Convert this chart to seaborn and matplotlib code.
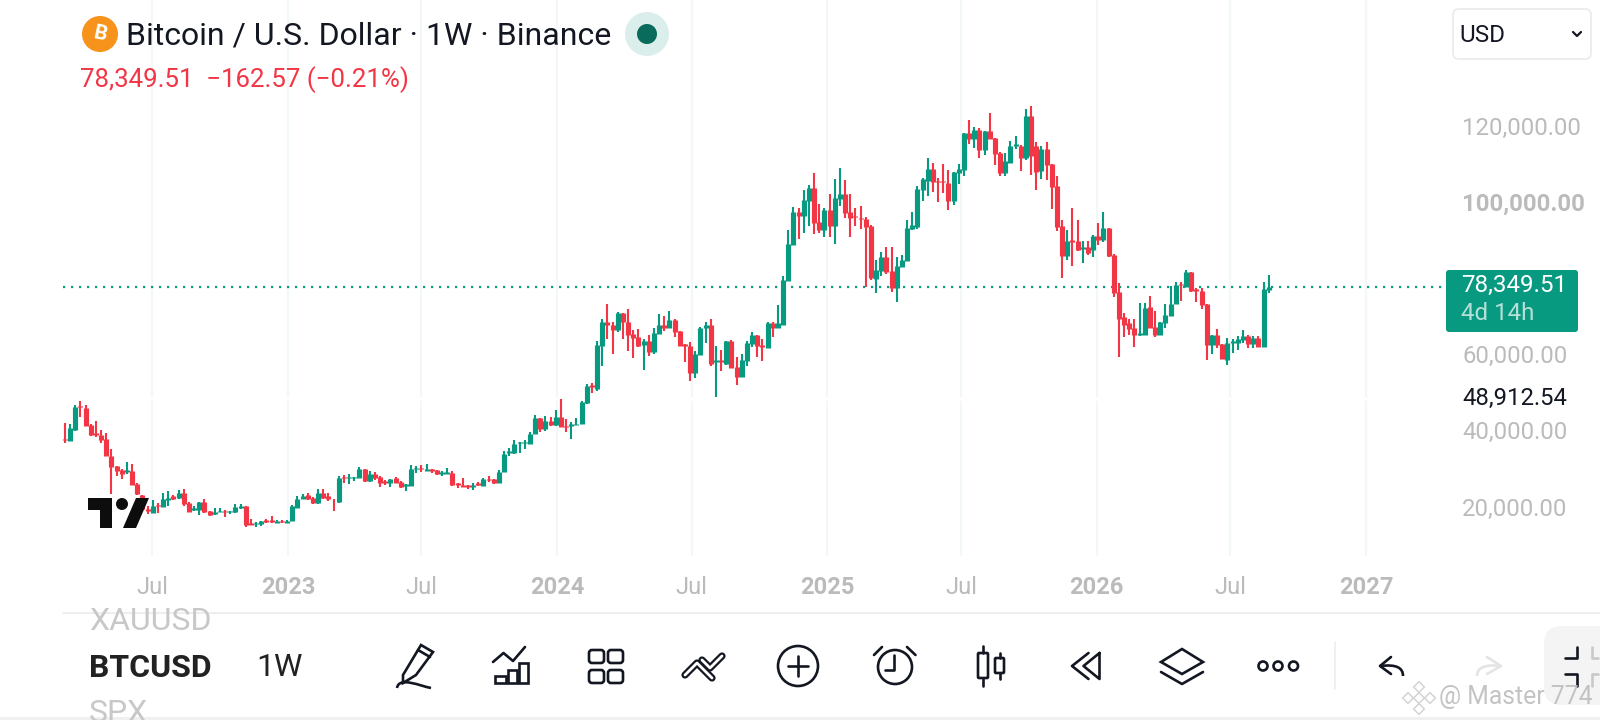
import pandas as pd
import matplotlib.pyplot as plt
import seaborn as sns
from matplotlib.patches import Circle, FancyBboxPatch, Polygon, Rectangle
from matplotlib.path import Path
from matplotlib.patches import PathPatch

# weekly candles, thousands of USD
OPEN = [38.4, 37.8, 40.8, 47.1, 46.5, 42.0, 39.9, 39.3, 38.3, 33.9, 31.2, 30.2, 29.8, 29.9, 26.6, 23.6, 20.1, 18.9, 21.0, 20.5,
        22.3, 23.4, 22.8, 24.2, 21.5, 19.8, 19.8, 21.8, 19.4, 18.6, 19.3, 19.6, 19.2, 19.2, 20.3, 20.7, 16.3, 16.0, 16.0, 17.0,
        17.1, 16.4, 16.9, 16.2, 16.8, 20.3, 22.5, 23.7, 22.9, 21.5, 24.2, 23.3, 22.7, 21.8, 28.3, 28.1, 28.2, 28.2, 30.5, 27.4,
        29.1, 28.3, 27.4, 26.7, 28.1, 27.1, 26.1, 26.1, 30.4, 30.7, 30.0, 30.4, 30.2, 29.2, 29.2, 29.4, 26.7, 26.3, 26.3, 25.7,
        26.8, 26.1, 28.0, 27.8, 26.9, 29.8, 34.8, 34.6, 37.3, 37.3, 37.1, 39.7, 43.9, 40.9, 43.2, 42.0, 44.1, 41.9, 41.9, 42.0,
        42.4, 47.7, 52.5, 51.5, 62.8, 69.0, 68.4, 67.0, 71.4, 69.2, 66.0, 65.2, 63.0, 64.1, 61.2, 66.0, 68.4, 67.4, 69.5, 66.8,
        63.3, 62.8, 55.8, 60.4, 67.4, 68.2, 58.6, 59.0, 58.0, 64.1, 57.4, 54.7, 58.8, 63.3, 65.7, 63.0, 62.2, 68.7, 67.6, 68.4,
        79.8, 89.2, 97.9, 96.9, 100.8, 104.3, 95.3, 93.2, 98.4, 94.2, 101.4, 102.7, 97.9, 96.9, 96.4, 96.1, 94.2, 80.3, 82.4, 86.2,
        82.4, 77.9, 83.5, 85.1, 93.5, 94.0, 103.8, 106.2, 109.2, 106.2, 106.2, 105.6, 100.8, 108.1, 109.0, 118.6, 117.0, 119.4, 114.2, 119.1,
        117.5, 113.4, 108.1, 110.8, 115.3, 115.3, 112.1, 123.1, 115.3, 108.6, 114.5, 110.5, 104.8, 94.3, 86.5, 90.5, 90.3, 88.2, 88.7, 87.9,
        91.6, 90.5, 93.7, 86.7, 77.0, 70.3, 68.7, 67.6, 65.7, 65.7, 73.0, 67.9, 65.7, 68.7, 70.6, 73.8, 79.0, 78.2, 82.2, 77.8,
        77.2, 73.8, 63.0, 65.7, 63.3, 59.0, 63.7, 63.7, 64.4, 65.4, 63.3, 64.9, 62.5, 77.5]
HIGH = [42.5, 42.3, 47.3, 48.3, 47.4, 42.3, 43.1, 40.7, 40.0, 35.8, 31.2, 30.4, 32.3, 31.8, 26.7, 23.8, 20.7, 22.3, 21.6, 24.2,
        24.7, 23.7, 25.0, 25.2, 21.8, 20.7, 21.8, 22.6, 19.6, 20.2, 20.2, 19.8, 19.4, 21.2, 21.2, 20.7, 17.5, 16.6, 16.9, 17.3,
        18.2, 17.0, 17.0, 17.0, 21.0, 23.4, 23.9, 24.2, 23.2, 25.2, 25.2, 24.3, 22.7, 28.6, 28.9, 29.1, 28.5, 31.0, 30.5, 29.9,
        29.7, 28.6, 27.6, 28.0, 28.3, 27.4, 26.6, 31.5, 31.3, 31.5, 31.8, 30.4, 30.2, 29.9, 30.7, 29.9, 26.7, 28.1, 26.3, 26.7,
        27.1, 28.1, 28.6, 27.8, 30.2, 35.3, 36.1, 38.0, 37.7, 38.2, 40.1, 44.7, 43.9, 44.4, 44.1, 46.0, 48.8, 43.6, 42.8, 43.9,
        48.3, 52.8, 53.1, 64.1, 70.0, 73.8, 69.0, 71.6, 71.4, 72.4, 67.0, 67.3, 64.6, 65.7, 67.6, 71.1, 70.6, 71.9, 70.0, 66.8,
        63.3, 63.8, 61.4, 67.9, 69.2, 69.8, 62.8, 61.7, 64.1, 64.4, 59.8, 60.6, 64.1, 66.5, 65.7, 64.6, 69.0, 69.2, 73.5, 81.1,
        93.2, 99.2, 99.0, 103.8, 105.1, 108.1, 100.0, 99.0, 102.7, 106.7, 109.4, 106.4, 102.7, 99.0, 99.5, 96.7, 94.5, 85.4, 87.4, 88.7,
        88.7, 86.2, 86.7, 95.9, 97.9, 104.8, 106.8, 112.1, 110.8, 106.8, 110.5, 108.9, 108.4, 110.5, 118.8, 122.0, 120.2, 119.9, 119.1, 123.9,
        117.5, 113.7, 113.4, 116.7, 117.8, 115.6, 125.0, 125.8, 116.4, 115.3, 116.4, 110.5, 107.3, 95.9, 93.2, 99.0, 95.9, 90.3, 90.3, 91.9,
        95.1, 97.9, 93.7, 86.8, 79.3, 71.4, 70.0, 70.0, 74.0, 74.0, 75.9, 71.9, 69.0, 73.8, 78.5, 79.5, 79.5, 82.7, 82.2, 77.9,
        77.9, 73.8, 65.7, 67.3, 63.3, 64.9, 64.6, 65.4, 67.0, 65.7, 65.4, 65.4, 79.6, 81.4]
LOW = [37.3, 37.8, 40.5, 44.2, 41.8, 39.1, 38.9, 37.3, 33.8, 23.9, 28.6, 27.9, 29.1, 26.3, 23.6, 20.1, 18.6, 18.9, 18.9, 20.5,
       20.7, 22.3, 22.6, 20.7, 19.2, 19.6, 18.4, 19.0, 18.1, 18.3, 19.1, 18.0, 18.6, 19.0, 20.0, 15.4, 15.9, 15.2, 15.6, 16.4,
       16.2, 16.2, 16.2, 16.2, 16.8, 20.2, 22.5, 22.3, 21.4, 21.3, 22.7, 22.2, 19.6, 21.6, 26.9, 26.6, 27.4, 28.2, 27.2, 27.2,
       27.7, 25.9, 26.3, 25.9, 26.8, 25.6, 24.8, 26.1, 29.5, 29.8, 30.0, 29.5, 28.9, 28.6, 29.2, 26.1, 25.6, 25.7, 25.2, 25.1,
       26.0, 26.0, 27.0, 26.6, 26.9, 29.8, 33.9, 34.5, 34.7, 35.8, 37.0, 39.7, 40.1, 40.4, 41.7, 41.7, 41.5, 40.1, 38.3, 42.0,
       42.4, 47.6, 50.5, 51.0, 57.6, 64.6, 60.6, 66.5, 64.6, 61.4, 59.6, 62.5, 56.6, 60.1, 60.6, 66.0, 66.8, 67.4, 65.2, 62.8,
       58.5, 53.7, 54.4, 60.4, 63.6, 57.5, 49.4, 56.3, 57.7, 57.1, 52.6, 54.7, 57.6, 62.5, 59.8, 58.8, 62.2, 65.2, 67.4, 68.4,
       79.8, 89.2, 90.8, 92.4, 94.2, 92.1, 92.4, 91.3, 91.3, 89.5, 99.5, 96.4, 91.3, 94.2, 93.5, 78.3, 80.1, 76.6, 81.1, 81.7,
       76.9, 74.3, 83.4, 85.1, 93.2, 93.5, 100.8, 102.2, 103.2, 100.6, 103.0, 98.4, 99.8, 105.4, 107.4, 115.8, 114.8, 112.1, 112.9, 117.0,
       110.2, 107.3, 107.3, 110.8, 114.5, 108.6, 111.6, 107.6, 103.8, 106.7, 106.4, 98.7, 92.9, 80.6, 85.4, 83.8, 87.6, 84.6, 86.7, 86.2,
       89.2, 90.0, 86.2, 75.6, 59.8, 65.2, 65.7, 62.5, 65.5, 65.7, 67.4, 65.2, 65.7, 67.6, 70.6, 73.8, 74.6, 78.2, 77.0, 74.3,
       72.4, 59.0, 60.6, 62.2, 59.3, 57.7, 60.9, 61.7, 63.6, 62.2, 62.2, 62.5, 62.5, 76.7]
CLOSE = [38.1, 41.3, 46.9, 46.7, 41.8, 39.3, 39.3, 38.0, 33.8, 31.1, 29.9, 29.1, 30.2, 26.3, 23.9, 20.1, 19.5, 20.7, 20.7, 22.6,
         23.0, 22.6, 24.2, 21.2, 19.2, 20.2, 21.8, 19.2, 18.4, 19.1, 19.5, 19.3, 19.4, 20.4, 20.9, 15.9, 15.9, 16.2, 16.9, 16.7,
         16.7, 16.9, 16.6, 16.9, 20.8, 22.6, 23.5, 22.5, 21.5, 24.2, 23.0, 22.6, 22.5, 28.1, 28.1, 28.3, 28.5, 30.5, 27.4, 29.1,
         28.1, 26.9, 26.9, 28.0, 26.8, 25.9, 26.6, 30.5, 30.7, 30.4, 30.5, 30.0, 29.1, 29.7, 29.7, 26.3, 26.4, 25.9, 25.9, 26.4,
         26.3, 27.9, 27.6, 26.9, 29.8, 34.5, 35.3, 37.1, 37.5, 37.5, 39.8, 43.9, 40.9, 43.2, 42.0, 44.1, 41.5, 41.6, 42.3, 42.4,
         48.1, 52.3, 52.1, 63.0, 69.0, 68.2, 67.0, 71.4, 69.0, 65.7, 64.9, 62.8, 64.1, 61.2, 66.2, 68.4, 67.4, 69.5, 66.5, 62.8,
         62.8, 55.8, 60.6, 67.6, 68.2, 58.0, 59.0, 58.6, 64.1, 57.1, 54.7, 59.0, 63.6, 65.7, 62.8, 62.5, 68.7, 67.6, 68.7, 80.1,
         89.5, 97.9, 96.9, 101.1, 104.3, 95.1, 93.2, 98.4, 94.2, 101.6, 102.7, 97.6, 96.4, 96.6, 96.0, 94.0, 80.6, 82.7, 86.2, 82.2,
         77.9, 83.8, 85.4, 93.7, 94.5, 104.0, 106.5, 109.2, 105.7, 105.7, 105.7, 100.8, 108.4, 109.2, 118.6, 117.0, 119.4, 114.2, 119.1, 117.2,
         113.2, 108.1, 111.3, 115.3, 115.8, 112.1, 123.1, 112.6, 108.4, 114.5, 110.2, 104.6, 94.0, 86.5, 90.3, 90.1, 87.9, 88.7, 87.3, 91.6,
         90.5, 93.7, 86.5, 76.7, 70.0, 68.4, 67.3, 65.7, 66.2, 72.7, 67.4, 65.7, 69.0, 70.8, 73.8, 78.7, 78.7, 82.2, 77.2, 77.3,
         73.5, 63.0, 65.7, 63.0, 59.3, 63.6, 64.1, 64.6, 65.4, 63.3, 64.9, 62.5, 77.7, 78.35]

GRID_DATES = ["2022-07-01", "2023-01-01", "2023-07-01", "2024-01-01", "2024-07-01",
              "2025-01-01", "2025-07-01", "2026-01-01", "2026-07-01", "2027-01-01"]
GRID_LABELS = ["Jul", "2023", "Jul", "2024", "Jul", "2025", "Jul", "2026", "Jul", "2027"]
PRICE_TICKS = [120000, 100000, 80000, 60000, 40000, 20000]
LAST_PRICE = 78349.51
CROSS_PRICE = 48912.54

UP = "#089981"
DOWN = "#F23645"
INK = "#131722"
GREY = "#BBBBBB"
FONTS = ["Roboto", "DejaVu Sans"]

sns.set_theme(style="white")
plt.rcParams["font.family"] = FONTS

dates = pd.date_range("2022-03-05", periods=len(CLOSE), freq="7D")
candles = pd.DataFrame({"date": dates, "open": OPEN, "high": HIGH, "low": LOW, "close": CLOSE})
candles["side"] = ["up" if c >= o else "down" for o, c in zip(candles["open"], candles["close"])]
candles["week"] = range(len(candles))

# one two point line per candle, so lineplot can draw wicks and bodies
wicks = candles.melt(id_vars=["date", "week", "side"], value_vars=["low", "high"], value_name="price")
bodies = candles.melt(id_vars=["date", "week", "side"], value_vars=["open", "close"], value_name="price")
wicks["price"] *= 1000
bodies["price"] *= 1000

fig = plt.figure(figsize=(16, 7.2), dpi=100)
ax = fig.add_axes([63 / 1600, (720 - 556) / 720, (1600 - 63) / 1600, 556 / 720])

palette = {"up": UP, "down": DOWN}
for frame, width in [(wicks, 1.5), (bodies, 3.7)]:
    sns.lineplot(data=frame, x="date", y="price", units="week", hue="side", palette=palette,
                 estimator=None, linewidth=width, legend=False, solid_capstyle="butt", zorder=3, ax=ax)

px_day = 0.738
start = dates[0]
ax.set_xlim(start - pd.Timedelta(days=2 / px_day), start + pd.Timedelta(days=1535 / px_day))
ax.set_ylim(7664, 153596)

ticks = pd.to_datetime(GRID_DATES)
ax.set_xticks(ticks)
ax.set_xticklabels(GRID_LABELS)
for lab, txt in zip(ax.get_xticklabels(), GRID_LABELS):
    lab.set_fontweight("normal" if txt == "Jul" else "bold")
ax.tick_params(axis="x", length=0, pad=14.5, labelsize=17, labelcolor=GREY)
ax.set_yticks([])
ax.set_xlabel("")
ax.set_ylabel("")
ax.set_axisbelow(True)
ax.grid(axis="x", color="#F2F8F7", linewidth=1.5)
sns.despine(ax=ax, left=True, bottom=True)

# the hidden crosshair leaves a white gap in the grid
ax.axhline(CROSS_PRICE, color="white", linewidth=2.6, zorder=1)
ax.axhline(LAST_PRICE, xmax=(1446 - 63) / 1537, color=UP, linewidth=1.6, linestyle=(0, (1, 2.6)), zorder=2)

y_side = ax.get_yaxis_transform()
for t in PRICE_TICKS:
    ax.annotate(f"{t:,.2f}", xy=(0.9103, t), xycoords=y_side, va="center", ha="left", fontsize=17.2,
                color=GREY, fontweight="bold" if t == 100000 else "normal")
ax.annotate(f"{CROSS_PRICE:,.2f}", xy=(0.9103, CROSS_PRICE), xycoords=y_side, va="center", ha="left",
            fontsize=17.2, color=INK)

# app chrome, in screen pixels
ui = fig.add_axes([0, 0, 1, 1], zorder=5)
ui.set_xlim(0, 1600)
ui.set_ylim(720, 0)
ui.axis("off")


def stroke(xs, ys, color=INK, lw=1.9):
    ui.plot(xs, ys, color=color, linewidth=lw, solid_capstyle="round", solid_joinstyle="round")


def box(x, y, w, h, r=3, face="none", edge=INK, lw=1.9):
    ui.add_patch(FancyBboxPatch((x + r, y + r), w - 2 * r, h - 2 * r, boxstyle=f"round,pad={r}",
                                facecolor=face, edgecolor=edge, linewidth=lw))


# header
ui.add_patch(Circle((100, 34), 18, color="#F7931A", lw=0))
ui.text(100, 34.5, "B", color="white", fontsize=15, fontweight="bold", ha="center", va="center", rotation=-12)
ui.text(126.5, 36, "Bitcoin / U.S. Dollar · 1W · Binance", color=INK, fontsize=23, va="center")
ui.add_patch(Circle((647, 34), 22, color="#DAEFEB", lw=0))
ui.add_patch(Circle((647, 34), 10, color="#086B5B", lw=0))
ui.text(80, 80, "78,349.51  −162.57 (−0.21%)", color=DOWN, fontsize=18.6, va="center")

# currency box and last price tag
box(1453, 9, 138, 50, r=6, face="white", edge="#EDEDED", lw=1.4)
ui.text(1459, 36, "USD", color=INK, fontsize=17.5, va="center")
stroke([1573, 1577, 1581], [32, 36, 32], lw=1.6)
box(1446, 270, 132, 62, r=3, face=UP, edge=UP, lw=0)
ui.text(1461, 285, "78,349.51", color="white", fontsize=17.4, va="center")
ui.text(1461, 313, "4d 14h", color="#B5E0D7", fontsize=17.4, va="center")

# TradingView mark
ui.add_patch(Polygon([(88, 498), (112, 498), (112, 528), (100, 528), (100, 510), (88, 510)], color="#0D0D0D", lw=0))
ui.add_patch(Circle((122, 504), 6, color="#0D0D0D", lw=0))
ui.add_patch(Polygon([(136, 498), (149, 498), (136, 528), (123, 528)], color="#0D0D0D", lw=0))

# bottom toolbar
ui.text(89, 621, "XAUUSD", color="#C8C8C8", fontsize=23, va="center")
ui.text(89, 713, "SPX", color="#C8C8C8", fontsize=23, va="center")
ui.add_patch(Rectangle((0, 597), 1600, 16, color="white", lw=0))
ui.plot([63, 1600], [613, 613], color="#EEEEEE", linewidth=1.4)
ui.add_patch(Rectangle((0, 717), 1600, 3, color="#F0F0F0", lw=0))
ui.text(89, 668, "BTCUSD", color="#222222", fontsize=23, fontweight="bold", va="center")
ui.text(256, 668, "1W", color="#222222", fontsize=23, va="center")

# pen
ui.add_patch(Polygon([(403, 675), (421, 645), (433, 652), (416, 675), (403, 683)], fill=False, edgecolor=INK, lw=1.9))
stroke([418, 430], [650, 657])
ui.add_patch(PathPatch(Path([(397, 688), (399, 676), (420, 686), (431, 688)],
                            [Path.MOVETO, Path.CURVE4, Path.CURVE4, Path.CURVE4]),
                       fill=False, edgecolor=INK, lw=1.9))
# indicators
stroke([493, 503.5, 513, 525], [662, 653, 661, 647])
ui.add_patch(Rectangle((495, 676), 11, 7, fill=False, edgecolor=INK, lw=1.9))
ui.add_patch(Rectangle((508, 670), 9, 13, fill=False, edgecolor=INK, lw=1.9))
ui.add_patch(Rectangle((519, 663), 9, 20, fill=False, edgecolor=INK, lw=1.9))
# layouts
for gx in (589, 608):
    for gy in (650, 670):
        box(gx, gy, 15, 13)
# drawing tools, a dark stroke with a white core
for xs, ys in [([685, 697, 712], [675, 663, 678]), ([702, 710, 722], [660, 668, 656])]:
    stroke(xs, ys, lw=5.2)
    stroke(xs, ys, color="white", lw=2)
# plus
ui.add_patch(Circle((798, 666), 20, fill=False, edgecolor=INK, lw=1.9))
stroke([788, 808], [666, 666])
stroke([798, 798], [656, 676])
# alarm
ui.add_patch(Circle((895, 667), 17, fill=False, edgecolor=INK, lw=1.9))
stroke([894, 894, 885], [655, 670, 670])
stroke([874, 882], [655, 647])
stroke([907, 915.5], [647, 655])
# candle type
box(978, 653, 10, 25, r=1)
stroke([983, 983], [646, 653])
stroke([983, 983], [678, 686])
box(995, 658, 9, 15, r=1)
stroke([999.5, 999.5], [653, 658])
stroke([999.5, 999.5], [673, 679])
# replay
stroke([1088.5, 1072, 1088.5], [653, 666, 679])
stroke([1099.5, 1083.5, 1099.5, 1099.5], [653, 666, 679, 653])
# layers
ui.add_patch(Polygon([(1182, 649), (1203, 662), (1182, 674), (1161, 662)], fill=False, edgecolor=INK, lw=1.9))
stroke([1161, 1182, 1203], [672, 684, 672])
# more
for dx in (1263, 1278, 1293.5):
    ui.add_patch(Circle((dx, 666), 4.5, fill=False, edgecolor=INK, lw=1.9))
ui.plot([1335, 1335], [642, 689], color="#EEEEEE", linewidth=1.2)
# undo, redo
stroke([1391, 1380, 1391], [657, 666, 674])
ui.add_patch(PathPatch(Path([(1380, 666), (1397, 664), (1403, 668), (1403, 676)],
                            [Path.MOVETO, Path.CURVE4, Path.CURVE4, Path.CURVE4]),
                       fill=False, edgecolor=INK, lw=1.9))
stroke([1487, 1501, 1487], [657, 666, 674], color="#E4E4E4")
ui.add_patch(PathPatch(Path([(1501, 666), (1484, 664), (1477, 668), (1477, 676)],
                            [Path.MOVETO, Path.CURVE4, Path.CURVE4, Path.CURVE4]),
                       fill=False, edgecolor="#E4E4E4", lw=1.9))
# fullscreen button
box(1544, 626, 90, 79, r=18, face="#F4F4F4", edge="none", lw=0)
stroke([1565, 1577, 1577], [658, 658, 647])
stroke([1565, 1577, 1577], [674, 674, 686])
stroke([1592, 1592, 1598], [647, 658, 658], color="#C9C9C9")
stroke([1592, 1592, 1598], [686, 674, 674], color="#C9C9C9")

# watermark
for wx, wy in [(1419, 687), (1419, 709), (1408, 698), (1430, 698), (1419, 698)]:
    ui.scatter([wx], [wy], marker="D", s=30, facecolor="none", edgecolor="#D4D4D4", linewidth=1.1)
ui.text(1439, 697, "@ Master 774", color="#BDBDBD", fontsize=17.8, va="center", alpha=0.9)

fig.savefig("out.png", dpi=100, facecolor="white")
